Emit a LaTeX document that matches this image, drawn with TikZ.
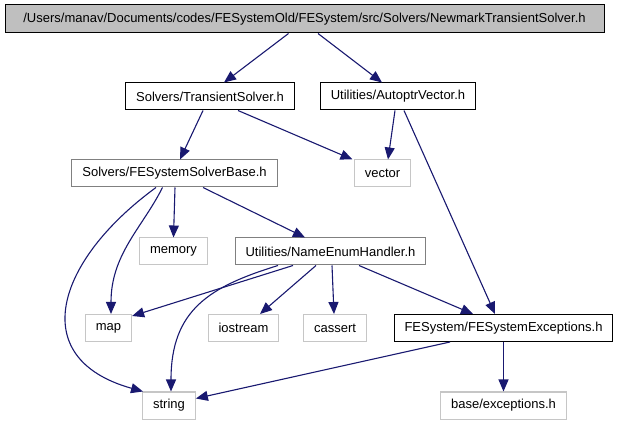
\documentclass[tikz,border=0pt]{standalone}
\usepackage{fontspec}
\setmainfont{Liberation Sans}
\usetikzlibrary{arrows.meta}
\definecolor{edgeblue}{RGB}{25,25,112}
\begin{document}
\begin{tikzpicture}[x=1pt, y=-1pt,
        font=\fontsize{13}{15}\selectfont,
        file/.style={draw=black, line width=1pt, inner xsep=10.5pt, minimum height=27pt, fill=white},
        midfile/.style={file, draw=gray},
        sysfile/.style={file, draw=gray!45},
        dep/.style={draw=edgeblue, line width=1.1pt, -{Triangle[length=12pt, width=10pt]}}]
        \useasboundingbox (0,0) rectangle (621,427);

        % The file itself
        \node[file, fill=gray!50, minimum height=28pt, minimum width=599pt] (newmark) at (304.5,19) {/Users/manav/Documents/codes/FESystemOld/FESystem/src/Solvers/NewmarkTransientSolver.h};

        % Direct includes
        \node[file] (transient) at (210,96.5) {Solvers/TransientSolver.h};
        \node[file] (autoptr) at (398,96.5) {Utilities/AutoptrVector.h};
        \node[midfile] (solverbase) at (174.5,173.5) {Solvers/FESystemSolverBase.h};
        \node[sysfile] (vector) at (382.5,173.5) {vector};
        \node[sysfile] (memory) at (173.5,251.5) {memory};
        \node[midfile] (enumhandler) at (330.5,251.5) {Utilities/NameEnumHandler.h};
        \node[sysfile] (map) at (108.5,328) {map};
        \node[sysfile] (iostream) at (243.5,328) {iostream};
        \node[sysfile] (cassert) at (335,328) {cassert};
        \node[file] (exceptions) at (503.5,328) {FESystem/FESystemExceptions.h};
        \node[sysfile] (string) at (169,405.5) {string};
        \node[sysfile] (baseexc) at (503.5,405.5) {base/exceptions.h};

        % Include edges
        \draw[dep] ([xshift=-16pt]newmark.south) -- ([xshift=14pt]transient.north);
        \draw[dep] ([xshift=13.5pt]newmark.south) -- ([xshift=-16pt]autoptr.north);
        \draw[dep] ([xshift=-7pt]transient.south) -- ([xshift=5.5pt]solverbase.north);
        \draw[dep] ([xshift=28pt]transient.south) -- ([xshift=-30pt]vector.north);
        \draw[dep] ([xshift=-3pt]autoptr.south) -- ([xshift=5.5pt]vector.north);
        \draw[dep] ([xshift=6pt]autoptr.south) -- ([xshift=-8.5pt]exceptions.north);
        \draw[dep] ([xshift=0.5pt]solverbase.south) -- (memory.north);
        \draw[dep] ([xshift=28.5pt]solverbase.south) -- ([xshift=-25.5pt]enumhandler.north);
        \draw[dep] ([xshift=-12pt]solverbase.south) .. controls +(-20,40) and +(0,-60) .. ([xshift=2.5pt]map.north);
        \draw[dep] ([xshift=-18.5pt]solverbase.south) .. controls +(-100,73) and +(-118,-33) .. ([xshift=-26pt]string.north);
        \draw[dep] ([xshift=-37.5pt]enumhandler.south) -- ([yshift=-2pt]map.north east);
        \draw[dep] ([xshift=-52.5pt]enumhandler.south) .. controls +(-68,21) and +(0,-82) .. ([xshift=2pt]string.north);
        \draw[dep] ([xshift=-14.5pt]enumhandler.south) -- ([xshift=16.5pt]iostream.north);
        \draw[dep] ([xshift=1.5pt]enumhandler.south) -- ([xshift=-1pt]cassert.north);
        \draw[dep] ([xshift=28.5pt]enumhandler.south) -- ([xshift=-30.5pt]exceptions.north);
        \draw[dep] ([xshift=-53.5pt]exceptions.south) -- ([yshift=7pt]string.east);
        \draw[dep] (exceptions.south) -- (baseexc.north);
\end{tikzpicture}
\end{document}
